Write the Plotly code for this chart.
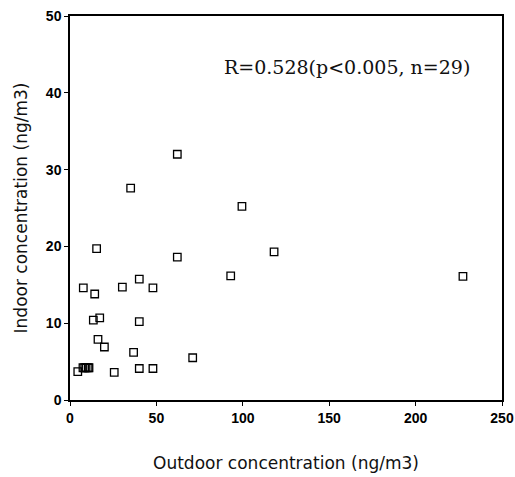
import plotly.graph_objects as go

# Outdoor vs indoor concentration (ng/m3)
outdoor = [35.1, 62.1, 99.5, 15.4, 62.1, 93.0, 118.1, 227.4, 7.7, 14.3,
           30.3, 40.1, 48.0, 13.5, 17.2, 40.1, 16.2, 19.9, 36.8, 71.0,
           4.5, 7.5, 8.5, 9.3, 10.5, 25.6, 40.1, 48.0, 11.0]
indoor = [27.6, 32.0, 25.2, 19.7, 18.6, 16.15, 19.3, 16.1, 14.6, 13.8,
          14.7, 15.75, 14.6, 10.4, 10.7, 10.2, 7.9, 6.9, 6.2, 5.5,
          3.7, 4.2, 4.2, 4.2, 4.2, 3.6, 4.1, 4.1, 4.2]

x_ticks = [0, 50, 100, 150, 200, 250]
y_ticks = [0, 10, 20, 30, 40, 50]
x_title = "Outdoor concentration (ng/m3)"
y_title = "Indoor concentration (ng/m3)"
stat_text = "R=0.528(p<0.005, n=29)"

fig = go.Figure()
fig.add_trace(go.Scatter(
    x=outdoor, y=indoor, mode="markers",
    marker=dict(symbol="square-open", size=7.5, color="black",
                line=dict(width=1.3, color="black")),
    showlegend=False,
))

axis_common = dict(
    showgrid=False, zeroline=False, showline=True, linecolor="black",
    linewidth=1.5, mirror=True, ticks="outside", ticklen=4,
    tickcolor="black", tickwidth=1, automargin=False,
    ticklabeloverflow="allow",
    tickfont=dict(family="Liberation Sans", size=14, color="black",
                  weight="bold"),
)

fig.update_layout(
    width=515, height=477,
    margin=dict(l=70, r=13, t=16, b=77),
    plot_bgcolor="white", paper_bgcolor="white",
    xaxis=dict(range=[0, 250], tickvals=x_ticks,
               title=dict(text=x_title, standoff=33,
                          font=dict(family="DejaVu Sans", size=17, color="#111")),
               **axis_common),
    yaxis=dict(range=[0, 50], tickvals=y_ticks,
               title=dict(text=y_title, standoff=14,
                          font=dict(family="DejaVu Sans", size=17, color="#111")),
               **axis_common),
    annotations=[dict(
        text=stat_text, xref="paper", yref="paper", x=0.352, y=0.867,
        xanchor="left", yanchor="middle", showarrow=False,
        font=dict(family="DejaVu Serif", size=19, color="#111"),
    )],
)

fig.write_html(
    "out.html",
    config={"displayModeBar": False},
    post_script="document.body.style.margin='0';document.body.style.overflow='hidden';",
)
